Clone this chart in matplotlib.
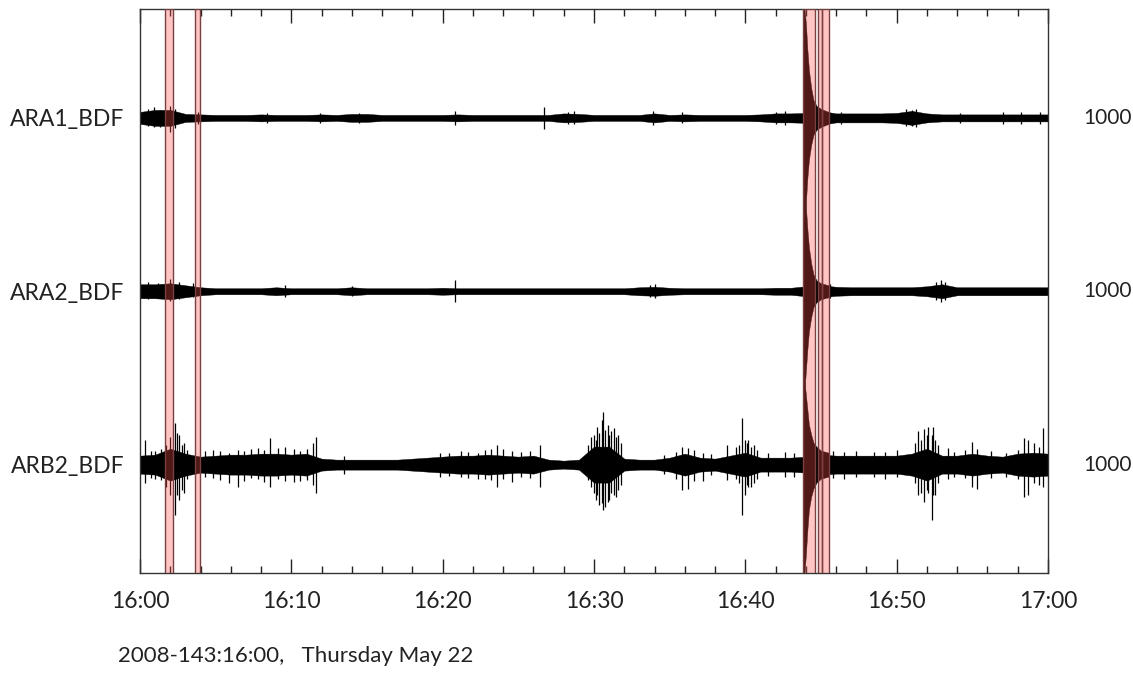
import matplotlib
matplotlib.use("Agg")
import matplotlib.pyplot as plt
import numpy as np

plt.rcParams['font.family'] = ['Lato', 'DejaVu Sans']

# channels, top to bottom
CHANNELS = ["ARA1_BDF", "ARA2_BDF", "ARB2_BDF"]
SCALE_LABELS = ["1000", "1000", "1000"]
TICK_MINUTES = [0, 10, 20, 30, 40, 50, 60]
TICK_LABELS = ["16:00", "16:10", "16:20", "16:30", "16:40", "16:50", "17:00"]
FOOTER = "2008-143:16:00,   Thursday May 22"

# envelope half-height read once per minute (16:00 ... 17:00), in screen px
ARA1_ENV = [6, 8, 8, 4, 3.5, 3, 3, 3, 3.5, 3, 3, 3, 3.5, 3, 4, 4,
            3, 3, 3, 3, 3, 3.5, 3, 3, 3, 3, 3, 3, 4.5, 4, 3,
            3, 3, 3, 4.5, 3, 3.5, 3, 3, 3, 3, 3.5, 4.5, 4.5, 5, 7, 4.5, 4.5, 4.5,
            4.5, 5, 7, 4.5, 3.5, 3.5, 3.5, 3.5, 3.5, 3.5, 3.5, 3.5]
ARA2_ENV = [7, 7, 8, 6, 4, 3, 3, 3, 3, 4, 3, 3, 3, 3, 4, 3,
            3, 3, 3, 3, 3.5, 3, 3, 3, 3, 3, 3, 3, 3, 3, 3,
            3, 3, 4, 4.5, 3.5, 3, 3, 3, 3, 3, 3, 3.5, 3.5, 5, 6, 4.5, 4,
            4, 4, 4, 4, 5, 7, 4, 4, 4, 4, 4, 4, 4]
ARB2_ENV = [9, 10, 16, 11, 8, 9, 10, 10, 11, 11, 10, 11, 6, 5, 5, 5, 5, 5, 6, 7,
            8, 9, 9, 10, 9, 8, 9, 5, 4, 5, 18, 18, 6, 5, 5, 7, 11, 7, 6, 9,
            12, 7, 7, 7, 8, 10, 9, 9, 9, 9, 9, 11, 16, 9, 9, 11, 9, 8, 11,
            12, 11]

# single spikes: (minute, up px, down px)
ARA1_SPIKES = [(0.5, 9, 8), (0.9, 11, 9), (1.3, 8, 9), (2.0, 12, 14), (2.3, 9, 10),
               (3.8, 6, 6), (8.4, 5, 5), (11.9, 5, 5), (14.5, 5, 5), (20.8, 7, 7),
               (26.7, 11, 11), (28.3, 6, 6), (28.7, 7, 6), (33.9, 7, 7), (35.8, 6, 5),
               (42.0, 6, 6), (42.6, 7, 7), (46.3, 6, 6), (50.6, 9, 8), (51.0, 8, 8),
               (51.3, 9, 9), (54.2, 5, 5), (57.0, 6, 6), (58.2, 6, 6), (59.5, 6, 6)]
ARA2_SPIKES = [(0.5, 9, 8), (1.2, 8, 7), (2.0, 12, 10), (2.6, 9, 8), (3.5, 8, 6),
               (9.6, 6, 6), (14.0, 5, 5), (20.8, 11, 11), (33.7, 6, 6), (34.0, 7, 7),
               (45.6, 7, 7), (52.6, 9, 9), (52.9, 11, 11), (53.2, 9, 9)]
ARB2_SPIKES = [(0.3, 25, 18), (0.7, 14, 13), (1.0, 14, 14), (1.4, 16, 15),
               (1.7, 20, 22), (2.0, 28, 30), (2.3, 42, 50), (2.45, 32, 30), (2.6, 30, 35),
               (2.75, 20, 25), (2.9, 22, 28), (3.1, 15, 14),
               (4.3, 14, 12), (4.8, 15, 13), (5.3, 14, 15), (5.9, 12, 18), (6.5, 15, 22),
               (6.9, 14, 16), (7.3, 16, 13), (7.8, 17, 14), (8.2, 15, 17), (8.6, 27, 22),
               (9.1, 17, 14), (9.6, 18, 16), (10.2, 16, 17), (10.6, 14, 16), (11.0, 16, 15),
               (11.4, 22, 20), (11.6, 28, 28), (13.5, 9, 9),
               (19.8, 12, 12), (20.4, 12, 11), (21.2, 14, 12), (21.7, 13, 13), (22.3, 12, 14),
               (22.8, 15, 14), (23.2, 16, 15), (23.6, 20, 22), (24.0, 16, 14), (24.6, 14, 17),
               (25.2, 13, 12), (25.8, 14, 13), (26.4, 20, 22),
               (29.6, 20, 15), (29.8, 28, 22), (30.0, 30, 28), (30.1, 25, 35), (30.2, 38, 30),
               (30.35, 32, 40), (30.5, 45, 38), (30.6, 53, 45), (30.75, 35, 42), (30.9, 40, 37),
               (31.0, 30, 35), (31.15, 34, 28), (31.3, 37, 30), (31.45, 28, 32), (31.6, 30, 25),
               (31.75, 22, 20),
               (34.6, 10, 9), (35.4, 13, 14), (35.8, 18, 25), (36.2, 17, 24), (36.6, 15, 16),
               (37.2, 12, 16), (37.7, 11, 10), (38.8, 20, 15), (39.4, 18, 14),
               (39.6, 20, 18), (39.8, 47, 50), (39.95, 25, 30), (40.1, 22, 20), (40.2, 25, 22),
               (40.4, 18, 22), (40.6, 20, 18), (40.8, 15, 14), (41.5, 12, 11), (42.6, 13, 12),
               (43.2, 12, 12),
               (45.8, 14, 13), (46.5, 13, 14), (47.3, 14, 12), (48.5, 13, 12), (49.2, 13, 14),
               (50.0, 15, 12), (51.2, 22, 18), (51.4, 34, 30), (51.6, 25, 28), (51.8, 36, 37),
               (52.0, 30, 25), (52.1, 38, 28), (52.3, 30, 55), (52.4, 38, 30), (52.55, 25, 30),
               (52.7, 20, 18), (53.4, 17, 14), (53.8, 13, 12), (54.5, 15, 13), (55.0, 23, 22),
               (55.3, 16, 24), (56.2, 14, 13), (57.2, 12, 12), (58.0, 15, 14), (58.4, 27, 32),
               (58.7, 25, 30), (59.1, 22, 18), (59.4, 18, 20), (59.7, 37, 22)]

# the big event at ~16:44
QUAKE_T = [43.82, 43.9, 44.0, 44.1, 44.2, 44.35, 44.5, 44.7, 45.0, 45.5]
ARA1_QUAKE_UP = [125, 110, 95, 68, 48, 30, 18, 12, 9, 6]
ARA1_QUAKE_DN = [120, 105, 85, 60, 42, 27, 17, 12, 9, 6]
ARA2_QUAKE_UP = [115, 105, 85, 62, 44, 28, 17, 11, 8, 6]
ARA2_QUAKE_DN = [110, 100, 80, 58, 40, 26, 16, 11, 8, 6]
ARB2_QUAKE_UP = [95, 85, 70, 55, 40, 30, 22, 18, 14, 12]
ARB2_QUAKE_DN = [125, 110, 90, 65, 45, 32, 24, 18, 14, 12]

# picked windows (start, end) in minutes
PICKS = [(1.65, 2.18), (3.64, 3.97), (43.82, 44.63), (44.81, 45.08), (45.08, 45.54)]

PX = 1 / 173.5   # screen px -> trace spacing units

envs = [ARA1_ENV, ARA2_ENV, ARB2_ENV]
spikes = [ARA1_SPIKES, ARA2_SPIKES, ARB2_SPIKES]
q_up = [ARA1_QUAKE_UP, ARA2_QUAKE_UP, ARB2_QUAKE_UP]
q_dn = [ARA1_QUAKE_DN, ARA2_QUAKE_DN, ARB2_QUAKE_DN]

fig = plt.figure(figsize=(11.33, 6.73), dpi=100)
ax = fig.add_axes([0.1236, 0.1486, 0.8014, 0.838])

minutes = np.arange(len(ARA1_ENV))
offsets = [2, 1, 0]
for i, off in enumerate(offsets):
    env = np.array(envs[i]) * PX
    ax.fill_between(minutes, off - env, off + env, color='black', lw=0.3, zorder=2)
    t = [s[0] for s in spikes[i]]
    ax.vlines(t, [off - s[2] * PX for s in spikes[i]], [off + s[1] * PX for s in spikes[i]],
              color='black', lw=0.9, zorder=2)
    ax.fill_between(QUAKE_T, off - np.array(q_dn[i]) * PX, off + np.array(q_up[i]) * PX,
                    color='black', lw=0.3, zorder=2)

for a, b in PICKS:
    ax.axvspan(a, b, facecolor='#ff4d4d', alpha=0.32, edgecolor='none', zorder=3)
    ax.axvline(a, color='#7a4040', lw=1.0, zorder=3)
    ax.axvline(b, color='#7a4040', lw=1.0, zorder=3)

ax.set_xlim(0, 60)
ax.set_ylim(-0.625, 2.628)

ax.set_xticks(TICK_MINUTES)
ax.set_xticklabels(TICK_LABELS)
ax.set_xticks(np.arange(0, 61, 2), minor=True)
ax.tick_params(axis='x', which='both', direction='in', top=True, bottom=True,
               labelsize=16.5, pad=13, colors='#222222')
ax.tick_params(axis='x', which='major', length=10, width=1)
ax.tick_params(axis='x', which='minor', length=5, width=1)

ax.set_yticks(offsets)
ax.set_yticklabels(CHANNELS)
ax.tick_params(axis='y', length=0, labelsize=16.5, pad=11, colors='#222222')

for lab, off in zip(SCALE_LABELS, offsets):
    ax.text(1.0386, off, lab, transform=ax.get_yaxis_transform(), va='center', ha='left',
            fontsize=15, color='#222222')

for sp in ax.spines.values():
    sp.set_color('#333333')
    sp.set_linewidth(1.0)

fig.text(118 / 1133, 1 - 656 / 673, FOOTER, fontsize=16, va='center', ha='left',
         color='#222222')

fig.savefig("out.png", dpi=100)
